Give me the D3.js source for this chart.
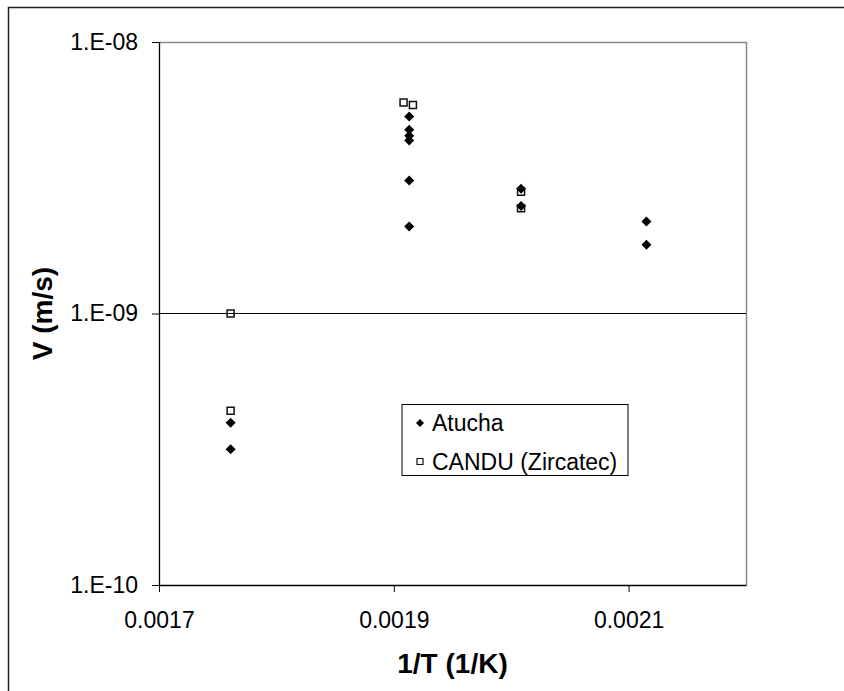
<!DOCTYPE html>
<html>
<head>
<meta charset="utf-8">
<script src="https://cdn.jsdelivr.net/npm/d3@7"></script>
<style>
  html, body { margin: 0; padding: 0; background: #fff; }
  svg { display: block; }
  text { font-family: "Liberation Sans", Arial, sans-serif; fill: #000; }
</style>
</head>
<body>
<svg id="chart" width="844" height="691"></svg>
<script>
// Crack velocity vs inverse temperature
const atuchaX = [0.001761, 0.001761,
                 0.0019131, 0.0019131, 0.0019131, 0.0019131, 0.0019131, 0.0019131,
                 0.0020084, 0.0020084,
                 0.0021152, 0.0021152];
const atuchaV = [3.96e-10, 3.16e-10,
                 5.32e-9, 4.75e-9, 4.52e-9, 4.34e-9, 3.09e-9, 2.09e-9,
                 2.88e-9, 2.49e-9,
                 2.18e-9, 1.79e-9];

const canduX = [0.001761, 0.001761, 0.0019083, 0.0019163, 0.0020084, 0.0020084];
const canduV = [1.0e-9, 4.38e-10, 5.99e-9, 5.86e-9, 2.81e-9, 2.44e-9];

const xTicks = [0.0017, 0.0019, 0.0021];
const xTickLabels = ["0.0017", "0.0019", "0.0021"];
const yTicks = [1e-10, 1e-9, 1e-8];
const yTickLabels = ["1.E-10", "1.E-09", "1.E-08"];
const seriesNames = ["Atucha", "CANDU (Zircatec)"];

const svg = d3.select("#chart");
const plot = { left: 159, right: 746, top: 42, bottom: 585 };

const x = d3.scaleLinear().domain([0.0017, 0.0022]).range([plot.left, plot.right]);
const y = d3.scaleLog().domain([1e-10, 1e-8]).range([plot.bottom, plot.top]);

// chart frame
svg.append("rect")
  .attr("x", 8.5).attr("y", 7.5)
  .attr("width", 900).attr("height", 800)
  .attr("fill", "none").attr("stroke", "#222").attr("stroke-width", 1.5);

// plot area: grey top/right edges
svg.append("path")
  .attr("d", `M${plot.left},${plot.top + 0.5}H${plot.right + 0.5}V${plot.bottom}`)
  .attr("fill", "none").attr("stroke", "#8a8a8a").attr("stroke-width", 1.5);

// major gridline
svg.append("g").selectAll("line")
  .data(yTicks.slice(1, -1))
  .join("line")
  .attr("x1", plot.left).attr("x2", plot.right)
  .attr("y1", d => Math.round(y(d)) + 0.5).attr("y2", d => Math.round(y(d)) + 0.5)
  .attr("stroke", "#000").attr("stroke-width", 1);

// axes
const xAxis = d3.axisBottom(x)
  .tickValues(xTicks)
  .tickFormat((d, i) => xTickLabels[i])
  .tickSizeInner(7).tickSizeOuter(0).tickPadding(20);
const gx = svg.append("g")
  .attr("transform", `translate(0,${plot.bottom})`)
  .call(xAxis);

const yAxis = d3.axisLeft(y)
  .tickValues(yTicks)
  .tickFormat((d, i) => yTickLabels[i])
  .tickSizeInner(7).tickSizeOuter(0).tickPadding(14);
const gy = svg.append("g")
  .attr("transform", `translate(${plot.left},0)`)
  .call(yAxis);

[gx, gy].forEach(g => {
  g.select(".domain").attr("stroke", "#000").attr("stroke-width", 1.3);
  g.selectAll(".tick line").attr("stroke", "#000").attr("stroke-width", 1);
  g.selectAll(".tick text")
    .attr("font-family", "'Liberation Sans', Arial, sans-serif")
    .attr("font-size", 23).attr("fill", "#000");
});

// axis titles
svg.append("text")
  .attr("x", (plot.left + plot.right) / 2).attr("y", 663)
  .attr("text-anchor", "middle").attr("dominant-baseline", "central")
  .attr("font-size", 28).attr("font-weight", "bold")
  .text("1/T (1/K)");

svg.append("text")
  .attr("transform", `translate(42,${(plot.top + plot.bottom) / 2}) rotate(-90)`)
  .attr("text-anchor", "middle").attr("dominant-baseline", "central")
  .attr("font-size", 28).attr("font-weight", "bold")
  .text("V (m/s)");

// markers
const diamond = d3.symbol(d3.symbolSquare, 50);
const square = d3.symbol(d3.symbolSquare, 49);

const atucha = d3.zip(atuchaX, atuchaV);
const candu = d3.zip(canduX, canduV);

svg.append("g").selectAll("path")
  .data(atucha)
  .join("path")
  .attr("d", diamond)
  .attr("transform", d => `translate(${x(d[0])},${y(d[1])}) rotate(45)`)
  .attr("fill", "#000");

svg.append("g").selectAll("path")
  .data(candu)
  .join("path")
  .attr("d", square)
  .attr("transform", d => `translate(${x(d[0])},${y(d[1])})`)
  .attr("fill", "none").attr("stroke", "#111").attr("stroke-width", 1.5);

// legend
const legend = svg.append("g");
legend.append("rect")
  .attr("x", 402).attr("y", 404.5).attr("width", 226).attr("height", 71)
  .attr("fill", "#fff").attr("stroke", "#000").attr("stroke-width", 1);

const legRows = [423, 461.5];
legend.append("path")
  .attr("d", d3.symbol(d3.symbolSquare, 32))
  .attr("transform", `translate(420,${legRows[0]}) rotate(45)`)
  .attr("fill", "#000");
legend.append("path")
  .attr("d", d3.symbol(d3.symbolSquare, 36))
  .attr("transform", `translate(420,${legRows[1]})`)
  .attr("fill", "none").attr("stroke", "#111").attr("stroke-width", 1.2);

legend.selectAll("text.leg")
  .data(seriesNames)
  .join("text")
  .attr("class", "leg")
  .attr("x", 432).attr("y", (d, i) => legRows[i])
  .attr("dominant-baseline", "central")
  .attr("font-size", 23)
  .text(d => d);
</script>
</body>
</html>
